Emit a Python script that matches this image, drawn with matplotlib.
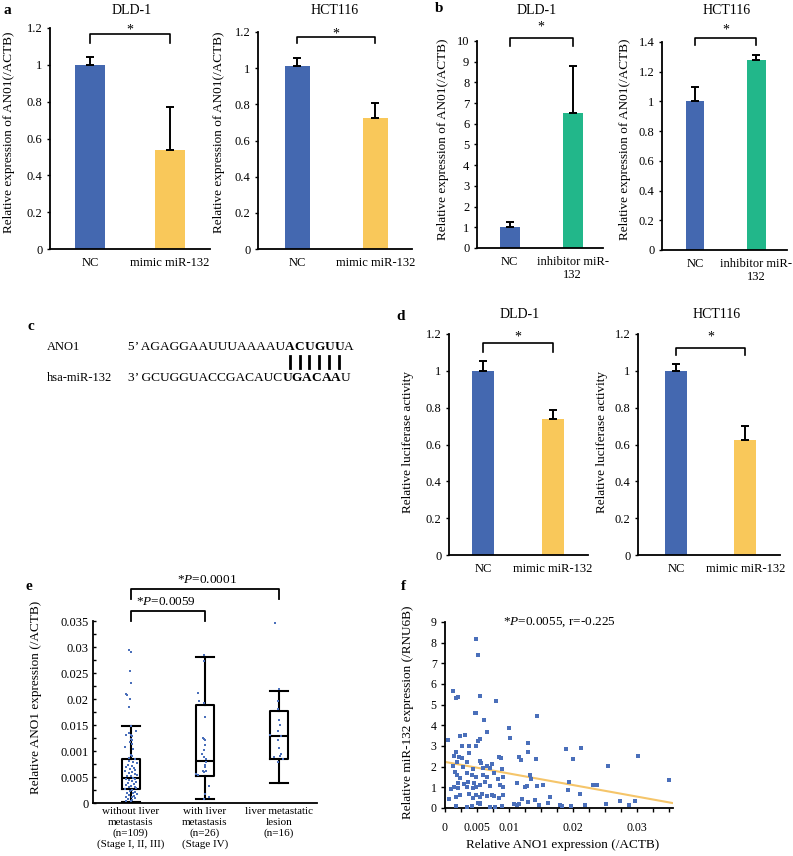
import matplotlib
matplotlib.use("Agg")
import matplotlib.pyplot as plt
from matplotlib.lines import Line2D

W, H = 793, 856

# ---- panel a / b / d bar data ----
a_dld_vals = [1.0, 0.535]
a_dld_errs = [0.045, 0.235]
a_hct_vals = [1.01, 0.725]
a_hct_errs = [0.045, 0.085]
b_dld_vals = [1.0, 6.5]
b_dld_errs = [0.27, 2.3]
b_hct_vals = [1.0, 1.28]
b_hct_errs = [0.10, 0.03]
d_dld_vals = [1.0, 0.74]
d_dld_errs = [0.055, 0.05]
d_hct_vals = [1.0, 0.625]
d_hct_errs = [0.035, 0.075]
mimic_cats = ["NC", "mimic miR-132"]
inhib_cats = ["NC", "inhibitor miR-\n132"]

# ---- panel e box data ----
e_groups = ["without liver\nmetastasis\n(n=109)\n(Stage I, II, III)",
            "with liver\nmetastasis\n(n=26)\n(Stage IV)",
            "liver metastatic\nlesion\n(n=16)"]
e_whislo = [0.0002, 0.0008, 0.0038]
e_q1 = [0.0026, 0.0052, 0.0084]
e_med = [0.0049, 0.0081, 0.0128]
e_q3 = [0.0085, 0.0188, 0.0176]
e_whishi = [0.0149, 0.0281, 0.0215]
e_ticks = [0, 0.005, 0.01, 0.015, 0.02, 0.025, 0.03, 0.035]
e_ticklabels = ["0", "0.005", "0.001", "0.015", "0.02", "0.025", "0.03", "0.035"]

e_pts1 = [0.0294, 0.0291, 0.0253, 0.0231, 0.0210, 0.0208, 0.0200, 0.0185, 0.0148, 0.0138,
          0.0135, 0.0131, 0.0131, 0.0128, 0.0124, 0.0121, 0.0118, 0.0114, 0.0108, 0.0104,
          0.0092, 0.0090, 0.0087, 0.0084, 0.0081, 0.0079, 0.0076, 0.0073, 0.0071, 0.0069,
          0.0067, 0.0065, 0.0063, 0.0061, 0.0059, 0.0057, 0.0056, 0.0054, 0.0052, 0.0051,
          0.0049, 0.0047, 0.0046, 0.0044, 0.0043, 0.0041, 0.0039, 0.0037, 0.0035, 0.0033,
          0.0031, 0.0030, 0.0028, 0.0027, 0.0025, 0.0023, 0.0021, 0.0020, 0.0019, 0.0017,
          0.0015, 0.0014, 0.0012, 0.0011, 0.0009, 0.0007, 0.0006, 0.0004, 0.0003]
e_off1 = [-0.02, 0.00, -0.01, 0.00, -0.07, -0.05, -0.01, -0.02, 0.00, 0.07,
          -0.03, -0.07, 0.00, 0.02, 0.00, 0.01, -0.01, 0.02, -0.08, 0.03,
          0.00, 0.01, -0.03, 0.05, -0.02, 0.03, 0.08, -0.04, 0.01, -0.06,
          0.04, -0.01, 0.06, -0.08, 0.02, -0.03, 0.05, 0.08, -0.05, 0.00,
          0.03, -0.07, 0.06, -0.02, 0.01, 0.07, -0.04, 0.04, -0.06, 0.00,
          0.05, -0.03, 0.07, -0.08, 0.02, -0.01, 0.06, -0.05, 0.03, 0.08,
          -0.02, 0.04, -0.07, 0.01, 0.05, -0.04, 0.02, -0.06, 0.00]
e_pts2 = [0.0285, 0.0274, 0.0212, 0.0197, 0.0193, 0.0165, 0.0125, 0.0124, 0.0121, 0.0112,
          0.0102, 0.0094, 0.0089, 0.0084, 0.0078, 0.0073, 0.0069, 0.0062, 0.0061, 0.0060,
          0.0056, 0.0054, 0.0033, 0.0017, 0.0011, 0.0008]
e_off2 = [-0.01, -0.02, -0.09, -0.08, -0.01, 0.00, -0.03, -0.02, 0.00, 0.00,
          -0.02, -0.04, -0.02, 0.01, 0.01, 0.00, 0.00, 0.01, -0.03, -0.01,
          -0.12, -0.09, 0.05, 0.00, 0.06, -0.02]
e_pts3 = [0.0347, 0.0219, 0.0197, 0.0180, 0.0160, 0.0150, 0.0139, 0.0131, 0.0128, 0.0122,
          0.0106, 0.0095, 0.0091, 0.0088, 0.0085, 0.0078]
e_off3 = [-0.05, 0.00, -0.01, -0.01, 0.00, 0.01, -0.01, -0.12, 0.02, -0.01,
          0.00, 0.03, 0.01, -0.07, 0.05, -0.02]

# ---- panel f scatter data ----
f_x = [0.0048, 0.0051, 0.0013, 0.0017, 0.0020, 0.0054, 0.0079, 0.0047, 0.0049, 0.0143,
       0.0061, 0.0065, 0.0100, 0.0102, 0.0004, 0.0024, 0.0031, 0.0054, 0.0051, 0.0048,
       0.0038, 0.0026, 0.0017, 0.0038, 0.0014, 0.0022, 0.0026, 0.0085, 0.0088, 0.0116,
       0.0119, 0.0129, 0.0129, 0.0142, 0.0189, 0.0018, 0.0035, 0.0054, 0.0056, 0.0065,
       0.0073, 0.0013, 0.0028, 0.0044, 0.0059, 0.0070, 0.0089, 0.0016, 0.0018, 0.0034,
       0.0042, 0.0048, 0.0024, 0.0059, 0.0065, 0.0076, 0.0082, 0.0091, 0.0132, 0.0135,
       0.0014, 0.0021, 0.0030, 0.0036, 0.0046, 0.0049, 0.0055, 0.0063, 0.0070, 0.0086,
       0.0091, 0.0112, 0.0125, 0.0128, 0.0143, 0.0153, 0.0010, 0.0034, 0.0043, 0.0021,
       0.0007, 0.0017, 0.0023, 0.0038, 0.0048, 0.0054, 0.0057, 0.0065, 0.0073, 0.0077,
       0.0085, 0.0091, 0.0121, 0.0130, 0.0141, 0.0164, 0.0044, 0.0017, 0.0034, 0.0042,
       0.0051, 0.0054, 0.0055, 0.0070, 0.0078, 0.0089, 0.0107, 0.0113, 0.0116, 0.0147,
       0.0161, 0.0179, 0.0182, 0.0197, 0.0200, 0.0193, 0.0192, 0.0213, 0.0211, 0.0219,
       0.0231, 0.0238, 0.0255, 0.0251, 0.0274, 0.0287, 0.0296, 0.0301, 0.0349]
f_y = [8.20, 7.40, 5.68, 5.31, 5.35, 5.42, 5.19, 4.58, 4.58, 4.45,
       4.26, 3.69, 3.85, 3.37, 3.29, 3.48, 3.53, 3.32, 3.26, 3.00,
       3.00, 3.00, 2.73, 2.68, 2.52, 2.45, 2.40, 2.48, 2.40, 2.45,
       2.32, 3.13, 2.73, 2.39, 2.84, 2.24, 2.21, 2.29, 2.19, 2.03,
       2.13, 2.03, 1.97, 1.87, 1.95, 1.92, 1.90, 1.76, 1.60, 1.68,
       1.60, 1.52, 1.47, 1.60, 1.48, 1.71, 1.39, 1.52, 1.62, 1.40,
       1.03, 1.19, 1.16, 1.27, 1.19, 1.03, 1.11, 1.27, 1.06, 1.11,
       1.03, 1.19, 1.03, 1.06, 1.06, 1.11, 0.90, 1.03, 0.95, 0.95,
       0.45, 0.55, 0.63, 0.68, 0.63, 0.55, 0.68, 0.58, 0.63, 0.58,
       0.47, 0.63, 0.42, 0.31, 0.39, 0.55, 0.47, 0.10, 0.06, 0.10,
       0.26, 0.19, 0.26, 0.06, 0.06, 0.10, 0.19, 0.13, 0.19, 0.13,
       0.26, 0.13, 0.10, 0.11, 2.37, 1.24, 0.85, 2.90, 0.66, 0.16,
       1.10, 1.10, 2.05, 0.19, 0.34, 0.15, 0.36, 2.52, 1.37]
fit_intercept = 2.23
fit_slope = -56.0
fit_x = [0.0, 0.0356]

BLUE = "#4468B0"
YELLOW = "#F9C85A"
GREEN = "#22B78A"
DOT = "#4A6FBA"

plt.rcParams["font.family"] = "Liberation Serif"
plt.rcParams["mathtext.fontset"] = "custom"
plt.rcParams["mathtext.rm"] = "Liberation Serif"
plt.rcParams["mathtext.it"] = "Liberation Serif:italic"
plt.rcParams["mathtext.bf"] = "Liberation Serif:bold"

fig = plt.figure(figsize=(W / 100, H / 100), dpi=100)


def px_axes(x0, y0, x1, y1):
    return fig.add_axes([x0 / W, 1 - y1 / H, (x1 - x0) / W, (y1 - y0) / H])


def ftext(x, y, s, **kw):
    return fig.text(x / W, 1 - y / H, s, **kw)


def base_style(ax):
    for side in ["top", "right"]:
        ax.spines[side].set_visible(False)
    for side in ["left", "bottom"]:
        ax.spines[side].set_linewidth(1.3)


def bar_panel(rect, vals, errs, colors, cats, width, xlim, ytop, ystep,
              bracket, star_y):
    ax = px_axes(*rect)
    base_style(ax)
    x = [0, 1]
    ax.bar(x, vals, width=width, color=colors, zorder=2)
    ax.errorbar(x, vals, yerr=[[0, 0], errs], fmt="none", ecolor="black",
                elinewidth=1.4, capsize=3, capthick=1.4, zorder=3)
    ax.set_xlim(*xlim)
    ax.set_ylim(0, ytop)
    ticks = [i * ystep for i in range(int(round(ytop / ystep)) + 1)]
    ax.set_yticks(ticks)
    ax.set_yticklabels([f"{t:g}" for t in ticks])
    ax.set_xticks(x)
    ax.set_xticklabels(cats, va="top", linespacing=1.1)
    ax.tick_params(axis="y", direction="out", length=2.5, width=1, pad=3, labelsize=9)
    ax.tick_params(axis="x", length=0, pad=6, labelsize=9)
    leg, top = bracket
    ax.plot([0, 0, 1, 1], [leg, top, top, leg], color="black", lw=1.2, clip_on=False)
    ax.text(0.5, star_y, "*", ha="center", va="center", fontsize=10, clip_on=False)
    return ax


# panel a
bar_panel((50, 28, 210, 249), a_dld_vals, a_dld_errs, [BLUE, YELLOW], mimic_cats,
          0.38, (-0.5, 1.5), 1.2, 0.2, (1.12, 1.167), 1.19)
bar_panel((258, 32, 412, 249), a_hct_vals, a_hct_errs, [BLUE, YELLOW], mimic_cats,
          0.32, (-0.5, 1.47), 1.2, 0.2, (1.14, 1.172), 1.19)
# panel b
bar_panel((477, 41, 603, 248), b_dld_vals, b_dld_errs, [BLUE, GREEN], inhib_cats,
          0.32, (-0.52, 1.48), 10, 1, (9.76, 10.14), 10.65)
bar_panel((662, 42, 787, 250), b_hct_vals, b_hct_errs, [BLUE, GREEN], inhib_cats,
          0.30, (-0.54, 1.5), 1.4, 0.2, (1.38, 1.427), 1.48)
# panel d
bar_panel((449, 334, 588, 555), d_dld_vals, d_dld_errs, [BLUE, YELLOW], mimic_cats,
          0.32, (-0.49, 1.5), 1.2, 0.2, (1.10, 1.151), 1.185)
bar_panel((638, 334, 780, 555), d_hct_vals, d_hct_errs, [BLUE, YELLOW], mimic_cats,
          0.32, (-0.55, 1.5), 1.2, 0.2, (1.086, 1.124), 1.185)

# titles and y labels of bar panels
for x, y, s in [(132, 10, "DLD-1"), (335, 10, "HCT116"), (537, 11, "DLD-1"),
                (727, 11, "HCT116"), (520, 315, "DLD-1"), (717, 315, "HCT116")]:
    ftext(x, y, s, ha="center", va="center", fontsize=10)
ylab_expr = "Relative expression of AN01(/ACTB)"
for x, y, s in [(9, 132, ylab_expr), (219, 132, ylab_expr), (443, 139, ylab_expr),
                (625, 139, ylab_expr), (408, 442, "Relative luciferase activity"),
                (602, 442, "Relative luciferase activity")]:
    ftext(x, y, s, ha="center", va="center", rotation=90, fontsize=9.5)

# panel letters
for x, y, s in [(7, 10, "a"), (439, 9, "b"), (31, 326, "c"), (401, 317, "d"),
                (29, 587, "e"), (403, 586, "f")]:
    ftext(x, y, s, ha="center", va="center", fontsize=11, weight="bold")

# panel c: sequence alignment
renderer = fig.canvas.get_renderer()


def seq_row(x, y, parts):
    centers = []
    for s, bold in parts:
        if bold:
            for ch in s:
                t = ftext(x, y, ch, va="center", fontsize=9.6, weight="bold")
                bb = t.get_window_extent(renderer)
                centers.append((bb.x0 + bb.x1) / 2)
                x += bb.width
        else:
            t = ftext(x, y, s, va="center", fontsize=9.6)
            x += t.get_window_extent(renderer).width
    return centers


ftext(47, 347, "ANO1", va="center", fontsize=9)
ftext(47, 378, "hsa-miR-132", va="center", fontsize=9)
top_centers = seq_row(128, 347, [("5\u2019 AGAGGAAUUUAAAAU", False), ("ACUGUU", True), ("A", False)])
seq_row(128, 378, [("3\u2019 GCUGGUACCGACAUC", False), ("UGACAA", True), ("U", False)])
for c in top_centers:
    fig.add_artist(Line2D([c / W, c / W], [1 - 356 / H, 1 - 368 / H],
                          transform=fig.transFigure, color="black", lw=2.0))

# panel e
ax = px_axes(93, 621, 317, 803)
base_style(ax)
stats = []
for i in range(3):
    stats.append(dict(med=e_med[i], q1=e_q1[i], q3=e_q3[i], whislo=e_whislo[i],
                      whishi=e_whishi[i], fliers=[]))
lp = dict(color="black", lw=1.5)
ax.bxp(stats, positions=[1, 2, 3], widths=0.24, capwidths=0.24, boxprops=lp,
       whiskerprops=lp, capprops=lp, medianprops=lp, showfliers=False)
for pos, pts, offs in [(1, e_pts1, e_off1), (2, e_pts2, e_off2), (3, e_pts3, e_off3)]:
    ax.scatter([pos + o for o in offs], pts, s=3, marker="s", color=DOT,
               linewidths=0, zorder=4)
ax.set_xlim(0.49, 3.51)
ax.set_ylim(0, 0.035)
ax.set_yticks(e_ticks)
ax.set_yticklabels(e_ticklabels)
ax.set_yticks([0.0025, 0.0075, 0.0125, 0.0175, 0.0225, 0.0275, 0.0325], minor=True)
ax.set_xticks([1, 2, 3])
ax.set_xticklabels(e_groups, fontsize=8, va="top", linespacing=1.2)
ax.tick_params(axis="y", which="both", direction="in", length=2.5, width=1, pad=3, labelsize=9)
ax.tick_params(axis="x", length=0, pad=3)
ax.plot([1, 1, 2, 2], [0.035, 0.0369, 0.0369, 0.035], color="black", lw=1.3, clip_on=False)
ax.plot([1, 1, 3, 3], [0.0392, 0.0412, 0.0412, 0.0392], color="black", lw=1.3, clip_on=False)
ax.text(1.47, 0.0387, "*$P$=0.0059", ha="center", va="center", fontsize=9.5, clip_on=False)
ax.text(2.03, 0.0429, "*$P$=0.0001", ha="center", va="center", fontsize=9.5, clip_on=False)
ftext(36, 697, "Relative ANO1 expression (/ACTB)", ha="center", va="center",
      rotation=90, fontsize=9.5)

# panel f
ax = px_axes(445, 622, 673, 808)
base_style(ax)
ax.scatter(f_x, f_y, s=6, marker="s", color=DOT, linewidths=0, zorder=3)
ax.plot(fit_x, [fit_intercept + fit_slope * v for v in fit_x], color="#F5C56A", lw=1.5, zorder=2)
ax.set_xlim(0, 0.0356)
ax.set_ylim(0, 9)
ax.set_yticks(range(10))
ax.set_xticks([0, 0.005, 0.01, 0.02, 0.03])
ax.set_xticklabels(["0", "0.005", "0.01", "0.02", "0.03"])
ax.set_xticks([0.0025, 0.0075, 0.0125, 0.015, 0.0175, 0.0225, 0.025, 0.0275, 0.0325, 0.035],
              minor=True)
ax.tick_params(axis="both", which="both", direction="out", length=3, width=1, labelsize=8.5)
ax.tick_params(axis="x", which="both", pad=7)
ax.tick_params(axis="y", pad=3)
ax.text(0.5, 1.0, "*$P$=0.0055, r=-0.225", transform=ax.transAxes, ha="center",
        va="center", fontsize=9.5)
ftext(408, 712, "Relative miR-132 expression (/RNU6B)", ha="center", va="center",
      rotation=90, fontsize=9.5)
ftext(563, 845, "Relative ANO1 expression (/ACTB)", ha="center", va="center", fontsize=9.5)

fig.savefig("out.png", dpi=100)
